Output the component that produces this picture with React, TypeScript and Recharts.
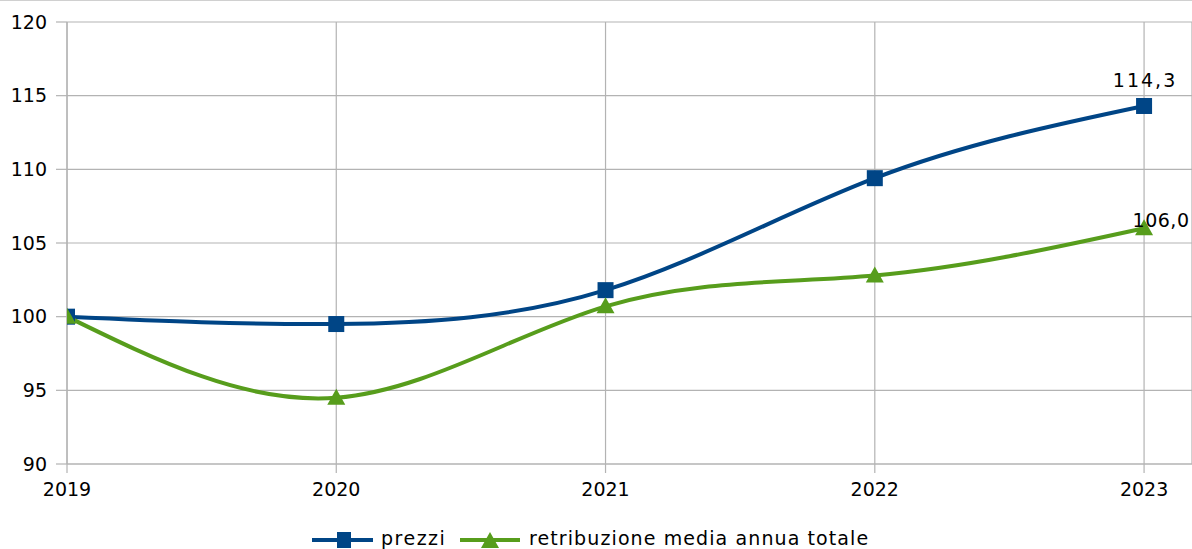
import React from 'react';
import {
  LineChart,
  Line,
  XAxis,
  YAxis,
  CartesianGrid,
  Legend,
  LabelList,
} from 'recharts';

const years = [2019, 2020, 2021, 2022, 2023];
const prezzi = [100, 99.5, 101.8, 109.4, 114.3];
const retribuzione = [100, 94.5, 100.7, 102.8, 106.0];
const yTicks = [90, 95, 100, 105, 110, 115, 120];

const BLUE = '#004586';
const GREEN = '#579d1c';
const GRID = '#b3b3b3';
const FONT = '"DejaVu Sans", sans-serif';

const chartData = years.map((year, i) => ({
  year,
  prezzi: prezzi[i],
  retribuzione: retribuzione[i],
}));

const lastIndex = years.length - 1;

const fmt = (v: number) => v.toFixed(1).replace('.', ',');

const SquareDot = (props: any) => {
  const { cx, cy } = props;
  if (cx == null || cy == null) return null;
  return <rect x={cx - 8} y={cy - 8} width={16} height={16} fill={BLUE} />;
};

const TriangleDot = (props: any) => {
  const { cx, cy } = props;
  if (cx == null || cy == null) return null;
  return (
    <polygon
      points={`${cx},${cy - 9} ${cx - 9},${cy + 7} ${cx + 9},${cy + 7}`}
      fill={GREEN}
    />
  );
};

const PrezziLabel = (props: any) => {
  const { x, y, index, value } = props;
  if (index !== lastIndex) return null;
  return (
    <text x={x + 1} y={y - 19} textAnchor="middle" fontSize={19} letterSpacing={2} fill="#000" fontFamily={FONT}>
      {fmt(value)}
    </text>
  );
};

const RetribLabel = (props: any) => {
  const { x, y, index, value } = props;
  if (index !== lastIndex) return null;
  return (
    <text x={x + 17} y={y - 1} textAnchor="middle" fontSize={19} letterSpacing={0.5} fill="#000" fontFamily={FONT}>
      {fmt(value)}
    </text>
  );
};

const CustomLegend = () => (
  <div style={{ position: 'relative', width: 1192, height: 35, fontFamily: FONT, fontSize: 19, color: '#000' }}>
    <svg width={62} height={20} style={{ position: 'absolute', left: 312, top: 16 }}>
      <line x1={0} y1={10} x2={61} y2={10} stroke={BLUE} strokeWidth={4} />
      <rect x={25} y={2} width={14} height={16} fill={BLUE} />
    </svg>
    <span style={{ position: 'absolute', left: 381, top: 13, letterSpacing: 1.5 }}>prezzi</span>
    <svg width={62} height={20} style={{ position: 'absolute', left: 460, top: 16 }}>
      <line x1={0} y1={10} x2={60} y2={10} stroke={GREEN} strokeWidth={4} />
      <polygon points="30,2 21,18 39,18" fill={GREEN} />
    </svg>
    <span style={{ position: 'absolute', left: 529, top: 13, letterSpacing: 1.1, whiteSpace: 'nowrap' }}>
      retribuzione media annua totale
    </span>
  </div>
);

export default function App() {
  return (
    <div style={{ position: 'absolute', left: 0, top: 0, width: 1192, height: 549, background: '#fff' }}>
      <div style={{ position: 'absolute', left: 0, top: 0, width: 1192, height: 1, background: '#d0d0d0' }} />
      <LineChart
        width={1192}
        height={549}
        data={chartData}
        margin={{ top: 22, right: 0, bottom: 0, left: 0 }}
      >
        <CartesianGrid stroke={GRID} strokeWidth={1.2} />
        <XAxis
          dataKey="year"
          type="number"
          domain={[2019, 2023.178]}
          ticks={years}
          allowDataOverflow
          stroke={GRID}
          strokeWidth={1.2}
          tickSize={9}
          tickMargin={10}
          height={50}
          tick={{ fill: '#000', fontSize: 19, fontFamily: FONT }}
        />
        <YAxis
          domain={[90, 120]}
          ticks={yTicks}
          width={67}
          stroke={GRID}
          strokeWidth={1.2}
          tickSize={11}
          tickMargin={9}
          tick={{ fill: '#000', fontSize: 19, fontFamily: FONT }}
        />
        <Legend verticalAlign="bottom" height={35} content={<CustomLegend />} />
        <Line
          type="natural"
          dataKey="prezzi"
          stroke={BLUE}
          strokeWidth={4}
          dot={<SquareDot />}
          activeDot={false}
          isAnimationActive={false}
        >
          <LabelList dataKey="prezzi" content={<PrezziLabel />} />
        </Line>
        <Line
          type="natural"
          dataKey="retribuzione"
          stroke={GREEN}
          strokeWidth={4}
          dot={<TriangleDot />}
          activeDot={false}
          isAnimationActive={false}
        >
          <LabelList dataKey="retribuzione" content={<RetribLabel />} />
        </Line>
      </LineChart>
    </div>
  );
}
